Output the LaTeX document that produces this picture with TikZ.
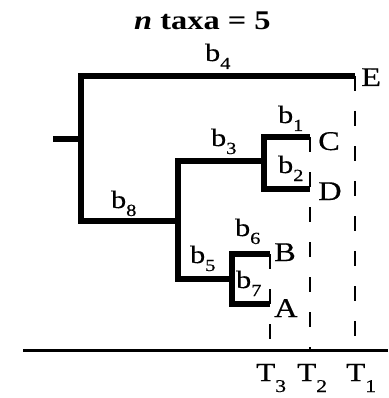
\documentclass[tikz,border=0pt]{standalone}
\usepackage{fontspec}
\setmainfont[FakeStretch=1.2]{Liberation Serif}
\newfontfamily\labfont[FakeStretch=1.2, FakeBold=0.5]{Liberation Serif}
\newcommand\bsub[2]{#1\raisebox{-8pt}{\fontsize{17}{17}\selectfont #2}}
\newcommand\tsub[2]{#1\raisebox{-11pt}{\fontsize{18}{18}\selectfont #2}}
\tikzset{
  branch/.style={line width=6pt, line cap=butt, line join=miter},
  guide/.style={line width=1.8pt, dash pattern=on 15pt off 20pt},
  axisline/.style={line width=3pt},
  blab/.style={anchor=base west, inner sep=0pt, font=\labfont\fontsize{25}{25}\selectfont},
  tip/.style={anchor=base west, inner sep=0pt, font=\labfont\fontsize{27}{27}\selectfont},
  tlab/.style={anchor=base west, inner sep=0pt, font=\labfont\fontsize{26}{26}\selectfont},
}
\begin{document}
\begin{tikzpicture}[x=1pt,y=-1pt]
\useasboundingbox (0,0) rectangle (388,398);
% title
\node[anchor=base west, inner sep=0pt, font=\fontsize{27}{27}\selectfont\bfseries] (title) at (134,30) {\textit{n} taxa = 5};
% junction coordinates
\coordinate (root) at (53,139);
\coordinate (r0) at (81,139);
\coordinate (rtop) at (81,76);
\coordinate (rbot) at (81,221);
\coordinate (eend) at (355,76);
\coordinate (n3) at (178,221);
\coordinate (n3top) at (178,161);
\coordinate (n3bot) at (178,279);
\coordinate (ncd) at (264,161);
\coordinate (ncdtop) at (264,137);
\coordinate (ncdbot) at (264,189);
\coordinate (cend) at (310,137);
\coordinate (dend) at (310,189);
\coordinate (nab) at (232,279);
\coordinate (nabtop) at (232,254);
\coordinate (nabbot) at (232,304);
\coordinate (bend) at (270,254);
\coordinate (aend) at (270,304);
\coordinate (axl) at (23,350.5);
\coordinate (axr) at (388,350.5);
\coordinate (t1) at (355,350.5);
\coordinate (t2) at (310,350.5);
\coordinate (t3) at (270,350.5);
% guides
\draw[guide] (eend) -- (t1);
\draw[guide] (cend) -- (t2);
\draw[guide] (bend) -- (t3);
% axis
\draw[axisline] (axl) -- (axr);
% tree
\draw[branch] (root) -- (r0);
\draw[branch] (eend) -- (rtop) -- (rbot) -- (n3);
\draw[branch] (ncd) -- (n3top) -- (n3bot) -- (nab);
\draw[branch] (n3top) -- (ncd);
\draw[branch] (cend) -- (ncdtop) -- (ncdbot) -- (dend);
\draw[branch] (bend) -- (nabtop) -- (nabbot) -- (aend);
% tips
\node[tip] (E) at (361,86) {E};
\node[tip] (C) at (318,150) {C};
\node[tip] (D) at (318,200) {D};
\node[tip] (B) at (274,261) {B};
\node[tip] (A) at (274,317) {A};
% branch labels
\node[blab] (b4) at (205,61) {\bsub{b}{4}};
\node[blab] (b1) at (278,123) {\bsub{b}{1}};
\node[blab] (b2) at (278,173) {\bsub{b}{2}};
\node[blab] (b3) at (211,146) {\bsub{b}{3}};
\node[blab] (b8) at (111,208) {\bsub{b}{8}};
\node[blab] (b6) at (235,236) {\bsub{b}{6}};
\node[blab] (b5) at (190,263) {\bsub{b}{5}};
\node[blab] (b7) at (236,288) {\bsub{b}{7}};
% time labels
\node[tlab] (T3) at (256,381) {\tsub{T}{3}};
\node[tlab] (T2) at (297,381) {\tsub{T}{2}};
\node[tlab] (T1) at (346,381) {\tsub{T}{1}};
\end{tikzpicture}
\end{document}
